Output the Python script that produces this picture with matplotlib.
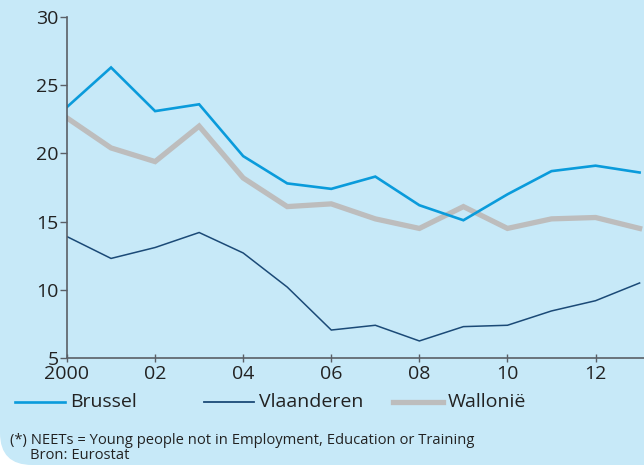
import numpy as np
from matplotlib import pyplot as plt
from matplotlib.patches import FancyBboxPatch
from matplotlib.lines import Line2D

plt.rcParams['font.family'] = ['Open Sans', 'DejaVu Sans']

years = np.arange(2000, 2014)
brussel = [23.4, 26.3, 23.1, 23.6, 19.8, 17.8, 17.4, 18.3, 16.2, 15.1, 17.0, 18.7, 19.1, 18.6]
vlaanderen = [13.9, 12.3, 13.1, 14.2, 12.7, 10.2, 7.05, 7.4, 6.25, 7.3, 7.4, 8.45, 9.2, 10.5]
wallonie = [22.6, 20.4, 19.4, 22.0, 18.2, 16.1, 16.3, 15.2, 14.5, 16.1, 14.5, 15.2, 15.3, 14.5]

xticks = [2000, 2002, 2004, 2006, 2008, 2010, 2012]
xlabels = ['2000', '02', '04', '06', '08', '10', '12']
yticks = [5, 10, 15, 20, 25, 30]

names = ['Brussel', 'Vlaanderen', 'Wallonië']
colors = ['#0a9bdb', '#1b4a77', '#bdbdbd']
widths = [1.9, 1.1, 3.8]
series = [brussel, vlaanderen, wallonie]

bg = '#c7e9f8'
axc = '#5a5f66'
txt = '#222222'
fs = 14

fig = plt.figure(figsize=(6.44, 4.65), dpi=100)
fig.patch.set_facecolor('white')
box = FancyBboxPatch((0, 0), 7.5, 5.5, boxstyle='round,pad=0,rounding_size=0.32',
                     transform=fig.dpi_scale_trans, facecolor=bg, edgecolor='none', zorder=0)
fig.add_artist(box)

ax = fig.add_axes([67/644, 1-358/465, 1-67/644, (358-17)/465])
ax.set_facecolor('none')
# wallonie under the others
for i in [2, 0, 1]:
    ax.plot(years, series[i], color=colors[i], lw=widths[i], solid_joinstyle='miter')

ax.set_xlim(2000, 2013.1)
ax.set_ylim(5, 30)
ax.set_xticks(xticks)
ax.set_xticklabels(xlabels)
ax.set_yticks(yticks)
for s in ['top', 'right']:
    ax.spines[s].set_visible(False)
for s in ['left', 'bottom']:
    ax.spines[s].set_color(axc)
    ax.spines[s].set_linewidth(1.2)
ax.tick_params(axis='y', direction='out', length=5, width=1, color=axc, labelsize=fs,
               labelcolor=txt, pad=1)
ax.tick_params(axis='x', direction='inout', length=6, width=1, color=axc, labelsize=fs,
               labelcolor=txt, pad=2)

# legend
lx = [15, 204, 393]
ly = 1 - 402/465
for i in range(3):
    x0 = lx[i] / 644
    fig.add_artist(Line2D([x0, x0 + 50/644], [ly, ly], color=colors[i], lw=widths[i] if i != 1 else 1.3,
                          transform=fig.transFigure))
    fig.text(x0 + 55/644, ly, names[i], fontsize=fs, color=txt, va='center', ha='left')

fig.text(10/644, 1-440/465, '(*) NEETs = Young people not in Employment, Education or Training',
         fontsize=10.6, color=txt, va='center')
fig.text(30/644, 1-455/465, 'Bron: Eurostat', fontsize=10.6, color=txt, va='center')

fig.savefig('out.png', dpi=100, facecolor=fig.get_facecolor())
